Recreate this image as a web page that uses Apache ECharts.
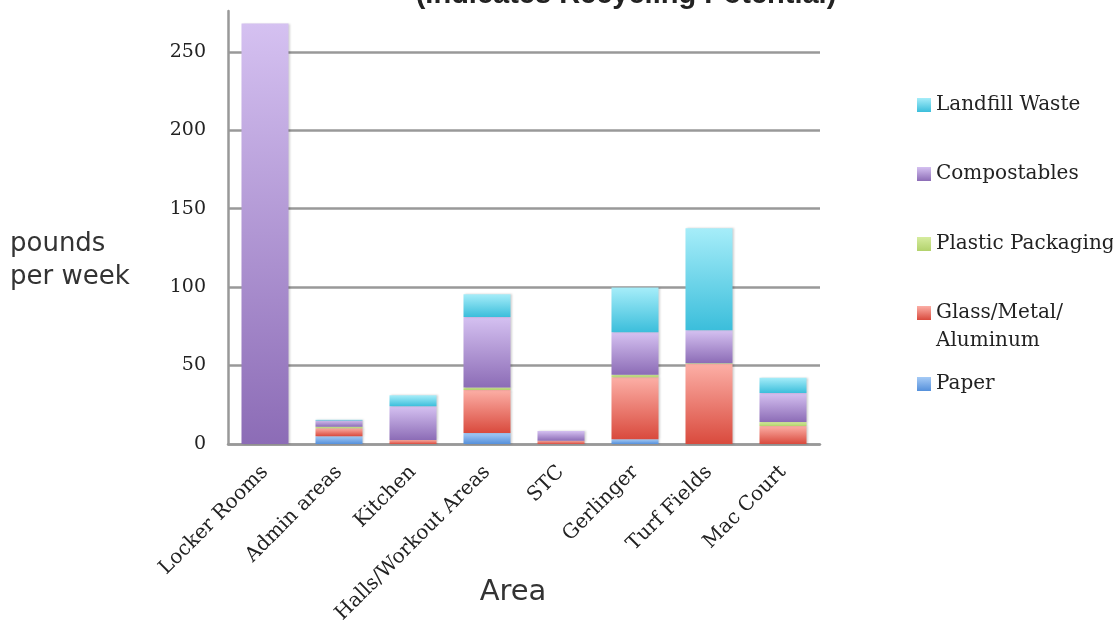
<!DOCTYPE html>
<html>
<head>
<meta charset="utf-8">
<script src="https://cdn.jsdelivr.net/npm/echarts@6/dist/echarts.min.js"></script>
<style>
  html, body { margin: 0; padding: 0; background: #fff; }
  #chart { width: 1113px; height: 627px; }
</style>
</head>
<body>
<div id="chart"></div>
<script>
// Areas surveyed
const categories = ['Locker Rooms', 'Admin areas', 'Kitchen', 'Halls/Workout Areas', 'STC', 'Gerlinger', 'Turf Fields', 'Mac Court'];

// Pounds per week by waste stream (stacked bottom to top)
const paper    = [0,   5,   0,    7,    0,   3,    0,  0];
const glass    = [0,   5,   2.5,  27.5, 2,   39.5, 51, 11.5];
const plastic  = [0,   1,   0,    1.5,  0,   1.7,  0.5, 2.5];
const compost  = [268, 4,   21.5, 45,   6.3, 27,   21, 18.5];
const landfill = [0,   0.5, 7,    14.5, 0,   28.5, 65, 9.8];

const yTicks = [0, 50, 100, 150, 200, 250];

function grad(top, bottom) {
  return new echarts.graphic.LinearGradient(0, 0, 0, 1, [
    { offset: 0, color: top },
    { offset: 1, color: bottom }
  ]);
}

const streams = [
  { name: 'Paper', data: paper, top: '#a6cbf6', bottom: '#5590db', legendColor: '#6ea3e6' },
  { name: 'Glass/Metal/Aluminum', data: glass, top: '#fcafa6', bottom: '#d94a3d', legendColor: '#ec7a70' },
  { name: 'Plastic Packaging', data: plastic, top: '#d6ec9f', bottom: '#b2d26c', legendColor: '#c2df86' },
  { name: 'Compostables', data: compost, top: '#d5c1f1', bottom: '#8c6cb6', legendColor: '#a489cf' },
  { name: 'Landfill Waste', data: landfill, top: '#a6edf9', bottom: '#3bbedb', legendColor: '#62cfe6' }
];

const serif = 'DejaVu Serif';
const gothic = 'DejaVu Sans';

// one legend block per stream, listed top-down from Landfill Waste to Paper
const legendTops = {
  'Landfill Waste': 91,
  'Compostables': 160,
  'Plastic Packaging': 230,
  'Glass/Metal/Aluminum': 271,
  'Paper': 370
};

const legends = streams.slice().reverse().map(s => {
  const multi = s.name === 'Glass/Metal/Aluminum';
  return {
    data: [s.name],
    left: 917,
    top: legendTops[s.name],
    orient: 'vertical',
    padding: 0,
    itemWidth: 14,
    itemHeight: 14,
    itemGap: 5,
    selectedMode: false,
    icon: 'rect',
    // the wrapped label keeps its first line level with the swatch
    formatter: multi ? () => '\nGlass/Metal/\nAluminum' : '{name}',
    textStyle: {
      fontFamily: serif,
      fontSize: 20,
      color: '#222',
      lineHeight: 28
    }
  };
});

const chart = echarts.init(document.getElementById('chart'), null, { renderer: 'canvas' });

chart.setOption({
  animation: false,
  backgroundColor: '#fff',
  graphic: [{
    type: 'text',
    style: {
      text: '(Indicates Recycling Potential)',
      x: 626,
      y: 9.5,
      textAlign: 'center',
      textVerticalAlign: 'bottom',
      font: 'bold 29px "Liberation Sans", Arial, sans-serif',
      fill: '#222'
    }
  }],
  legend: legends,
  grid: { left: 228, right: 293, top: 11, bottom: 183, containLabel: false, outerBoundsMode: 'none' },
  xAxis: {
    type: 'category',
    data: categories,
    name: 'Area',
    nameLocation: 'middle',
    nameGap: 134,
    nameMoveOverlap: false,
    nameTextStyle: { fontFamily: gothic, fontSize: 29, color: '#333', padding: [0, 22, 0, 0] },
    axisLine: { show: true, lineStyle: { color: '#999', width: 2.5 } },
    axisTick: { show: false },
    axisLabel: {
      interval: 0,
      rotate: 45,
      margin: 25,
      fontFamily: serif,
      fontSize: 20,
      color: '#222'
    }
  },
  yAxis: {
    type: 'value',
    min: 0,
    max: 276,
    interval: 50,
    // two blank lines above push the label block below the axis midpoint
    name: '\n\npounds\nper week',
    nameLocation: 'middle',
    nameRotate: 0,
    nameGap: 218,
    nameMoveOverlap: false,
    nameTextStyle: {
      fontFamily: gothic,
      fontSize: 26,
      color: '#333',
      align: 'left',
      lineHeight: 33
    },
    axisLine: { show: true, lineStyle: { color: '#999', width: 2.5 } },
    axisTick: { show: false },
    axisLabel: {
      showMaxLabel: false,
      margin: 22,
      fontFamily: serif,
      fontSize: 19,
      color: '#222',
      formatter: v => (yTicks.indexOf(v) >= 0 ? String(v) : '')
    },
    splitLine: { show: true, showMaxLine: false, lineStyle: { color: '#999', width: 2.5 } }
  },
  series: streams.map(s => ({
    type: 'bar',
    name: s.name,
    stack: 'total',
    barWidth: 47,
    data: s.data,
    itemStyle: {
      color: grad(s.top, s.bottom),
      shadowColor: 'rgba(0,0,0,0.18)',
      shadowBlur: 2,
      shadowOffsetX: 1,
      shadowOffsetY: 0
    },
    emphasis: { disabled: true }
  })),
  color: streams.map(s => s.legendColor)
});
</script>
</body>
</html>
